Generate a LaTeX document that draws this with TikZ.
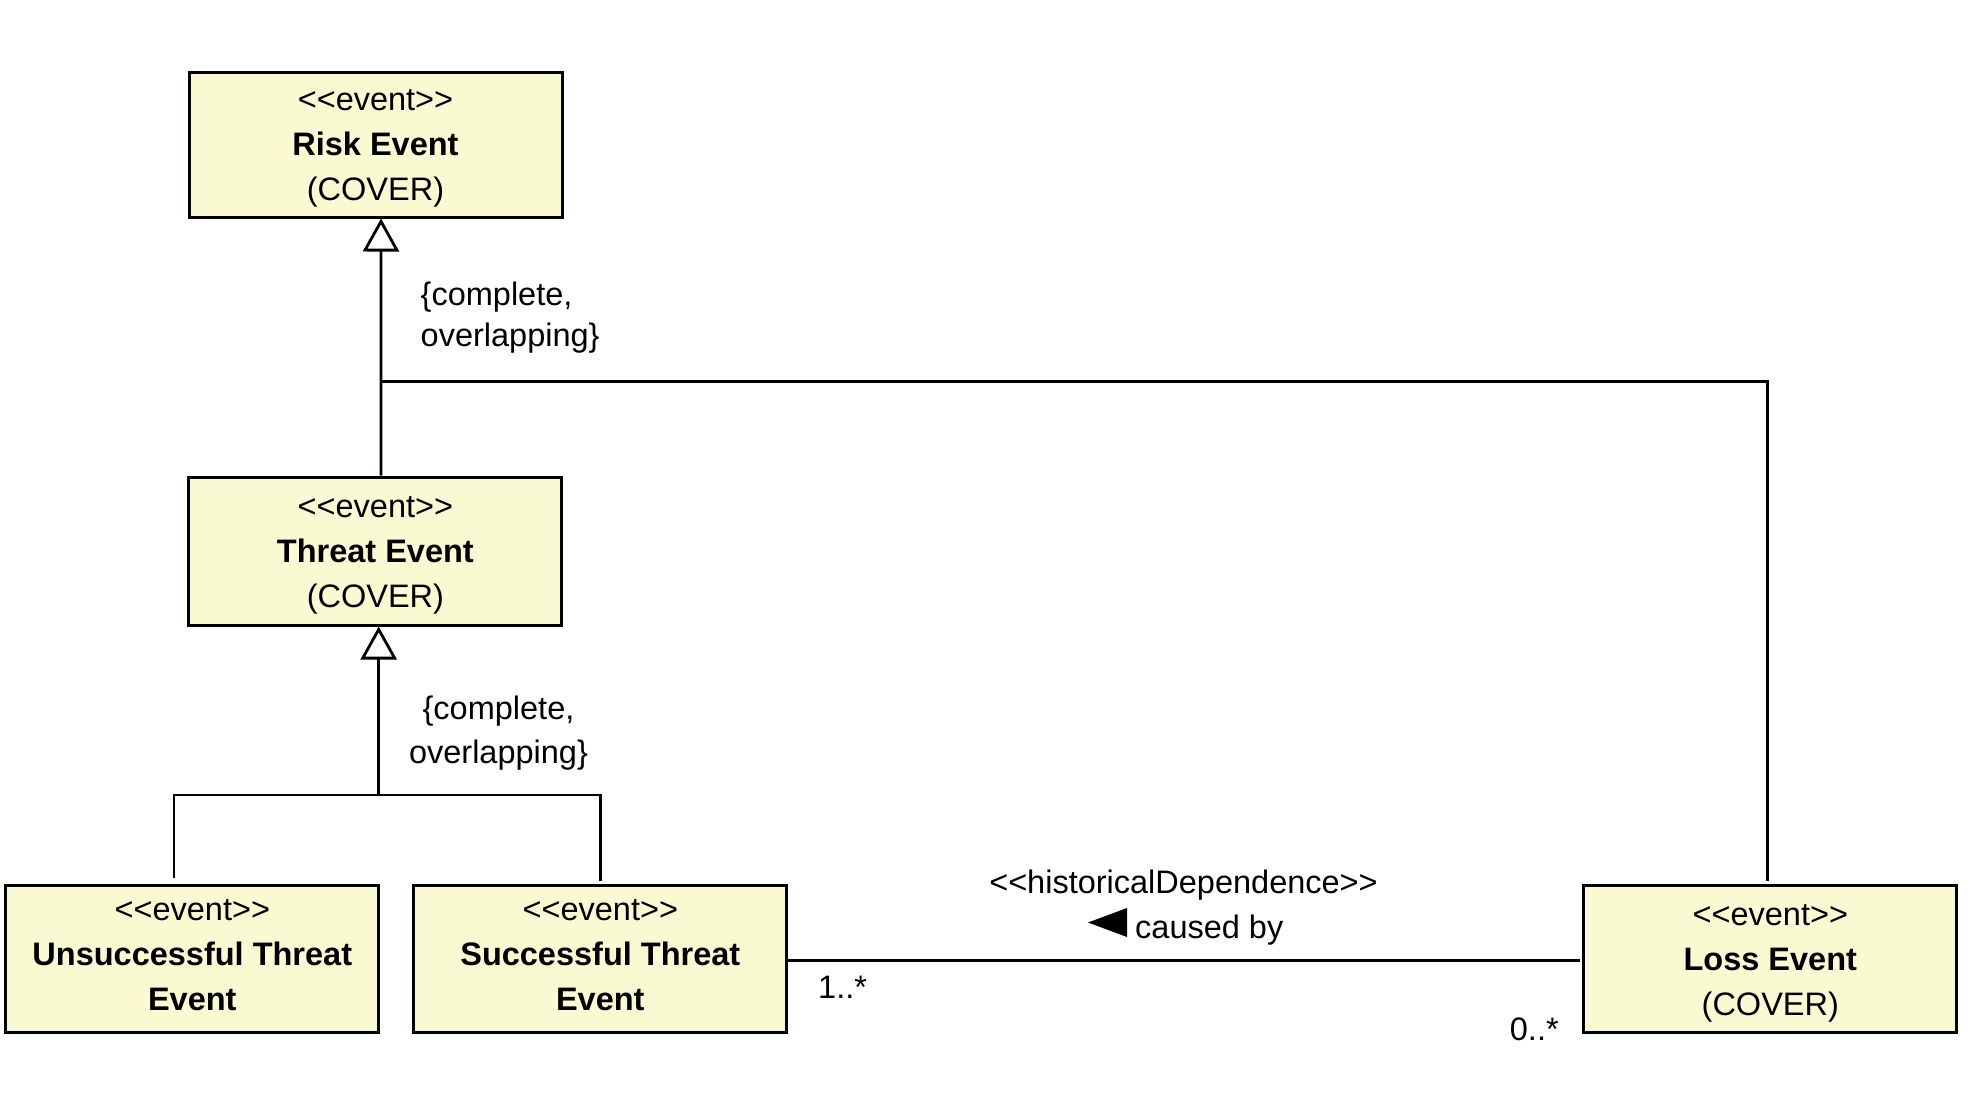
\documentclass[tikz,border=0pt]{standalone}
\usepackage{fontspec}
\setmainfont{Liberation Sans}
\usetikzlibrary{arrows.meta}
\definecolor{evfill}{RGB}{250,250,210}
\newcommand{\stereo}[1]{<\kern0pt<#1>\kern0pt>}
\begin{document}
\begin{tikzpicture}[x=1pt,y=-1pt,
  evbox/.style={draw, line width=3pt, fill=evfill, minimum width=373pt,
    inner sep=0pt, align=center, text depth=0pt, font=\fontsize{32.5}{45}\selectfont},
  conn/.style={line width=2.8pt},
  gen/.style={conn, -{Triangle[length=33pt,width=36pt,fill=white]}},
  lbl/.style={inner sep=0pt, font=\fontsize{32.5}{41}\selectfont}]
\useasboundingbox[fill=white] (0,0) rectangle (1968,1101);

% classes
\node[evbox, minimum height=145pt, text height=111pt] (risk) at (375.5,144.5)
  {\stereo{event}\\\textbf{Risk Event}\\(COVER)};
\node[evbox, minimum height=148pt, text height=112pt] (threat) at (375.4,551)
  {\stereo{event}\\\textbf{Threat Event}\\(COVER)};
\node[evbox, minimum height=147pt, text height=104pt] (unsucc) at (192.3,958.8)
  {\stereo{event}\\\textbf{Unsuccessful Threat}\\\textbf{Event}};
\node[evbox, minimum height=147pt, text height=104pt] (succ) at (600.3,958.8)
  {\stereo{event}\\\textbf{Successful Threat}\\\textbf{Event}};
\node[evbox, minimum height=147pt, text height=114pt] (loss) at (1770.3,958.8)
  {\stereo{event}\\\textbf{Loss Event}\\(COVER)};

% junctions
\coordinate (j1) at (381,381.7);
\coordinate (j2) at (378.7,795);

% generalization Threat/Loss -> Risk
\draw[gen] ([xshift=5.5pt]threat.north) -- ([xshift=5.5pt]risk.south);
\draw[conn] ([xshift=-3pt,yshift=3.3pt]loss.north) |- (j1);

% generalization Unsuccessful/Successful -> Threat
\draw[conn] ([xshift=-18.3pt,yshift=6pt]unsucc.north) |- (j2) -| ([yshift=3pt]succ.north);
\draw[gen] (j2) -- ([xshift=3.3pt]threat.south);

% association
\draw[conn] ([yshift=-1.5pt]succ.east) -- ([xshift=-2.5pt,yshift=-1.5pt]loss.west);

% labels
\node[lbl, anchor=base west, align=left] (gs1) at (420.5,346) {\{complete,\\overlapping\}};
\node[lbl, anchor=base, align=center, font=\fontsize{32.5}{44}\selectfont] (gs2) at (498.5,763) {\{complete,\\overlapping\}};
\node[lbl, anchor=base] (hist) at (1183.5,893) {\stereo{historicalDependence}};
\node[lbl, anchor=base west] (cby) at (1135,938) {caused by};
\fill (1088,922.5) -- (1127,908) -- (1127,937) -- cycle;
\node[lbl, anchor=base west] (m1) at (818,998) {1..*};
\node[lbl, anchor=base west] (m2) at (1509.7,1040) {0..*};
\end{tikzpicture}
\end{document}
